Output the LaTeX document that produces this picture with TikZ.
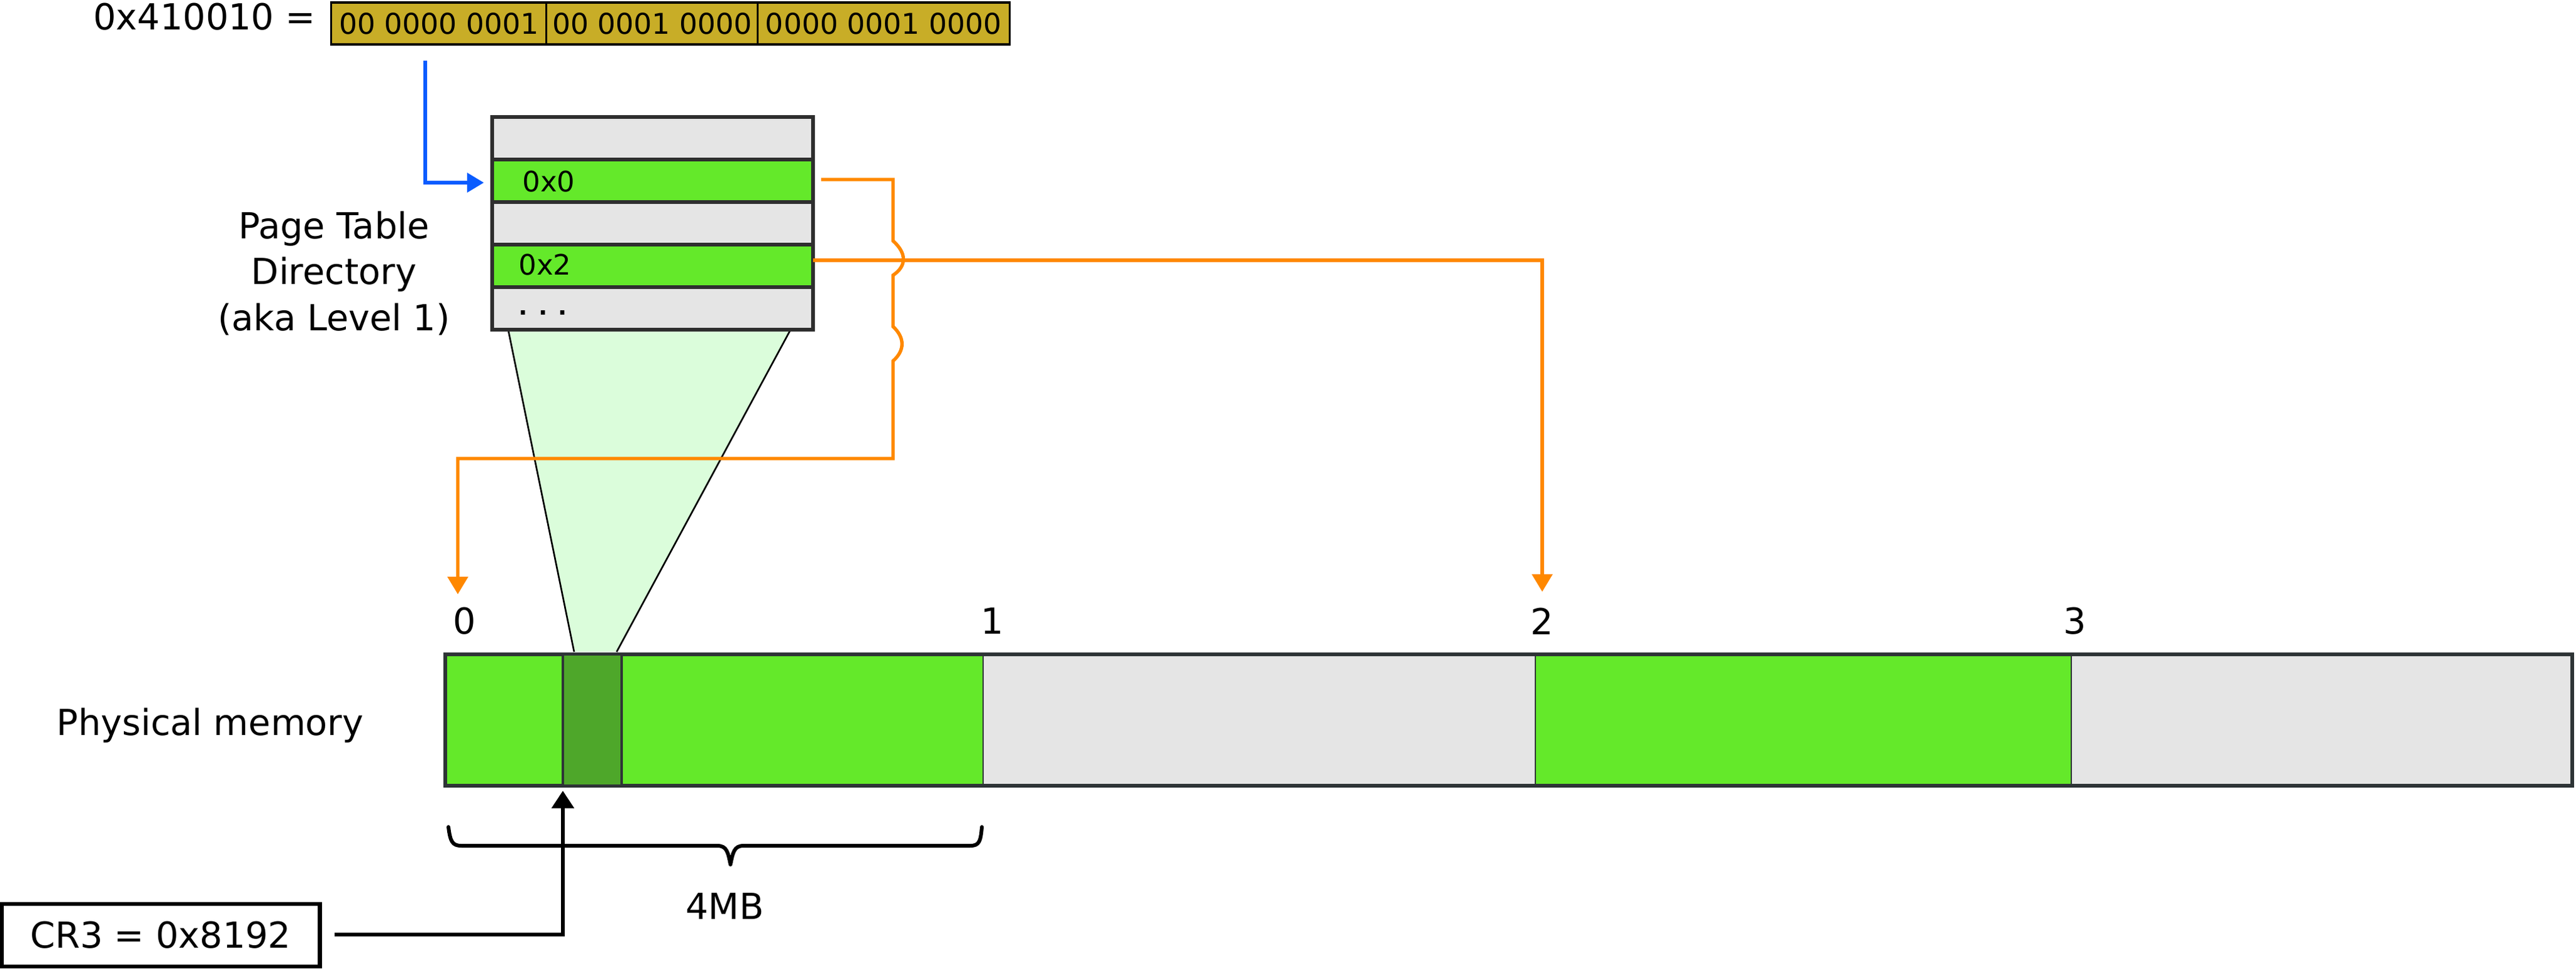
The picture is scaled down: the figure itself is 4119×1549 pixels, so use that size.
\documentclass[tikz,border=0pt]{standalone}
\usepackage{fontspec}
\setmainfont{DejaVu Sans}
\usetikzlibrary{arrows.meta}
\definecolor{pgreen}{HTML}{64E92A}
\definecolor{lgray}{HTML}{E5E5E5}
\definecolor{dgreen}{HTML}{4EA72A}
\definecolor{tfill}{HTML}{DBFDDB}
\definecolor{ybox}{HTML}{C8AD27}
\definecolor{oline}{HTML}{FF8800}
\definecolor{bline}{HTML}{0A5CFF}
\definecolor{tdark}{HTML}{2E2E2E}
\definecolor{mdark}{HTML}{2E3436}
\tikzset{
  bigtext/.style={font=\fontsize{16.3}{21}\selectfont, inner sep=0pt},
  smalltext/.style={font=\fontsize{12.8}{15}\selectfont, inner sep=0pt},
  ycell/.style={draw=black, fill=ybox, line width=0.9pt, minimum height=0.67cm, inner sep=0pt, outer sep=0pt, font=\fontsize{13}{15}\selectfont},
  trow/.style={draw=tdark, line width=1.7pt, minimum width=5.13cm, minimum height=0.68cm, inner sep=0pt, outer sep=0pt},
  mseg/.style={draw=mdark, line width=0.6pt, minimum height=2.10cm, inner sep=0pt, outer sep=0pt},
  oconn/.style={draw=oline, line width=1.55pt, -{Triangle[length=0.28cm,width=0.32cm]}},
  bconn/.style={draw=bline, line width=1.9pt, -{Triangle[length=0.27cm,width=0.30cm]}},
  kconn/.style={draw=black, line width=1.7pt, -{Triangle[length=0.28cm,width=0.35cm]}},
}
\begin{document}
\begin{tikzpicture}[x=0.01cm,y=-0.01cm]
\useasboundingbox (0,0) rectangle (4119,1549);

% address
\node[bigtext] (addr) at (327,27) {0x410010 =};
\node[ycell, minimum width=3.44cm] (yb0) at (702,37.5) {00 0000 0001};
\node[ycell, minimum width=3.38cm] (yb1) at (1043,37.5) {00 0001 0000};
\node[ycell, minimum width=4.02cm] (yb2) at (1413,37.5) {0000 0001 0000};

% trapezoid (behind)
\coordinate (tl) at (813,529);
\coordinate (tr) at (1263,529);
\coordinate (bl) at (918,1042);
\coordinate (br) at (986,1042);
\fill[tfill] (tl) -- (tr) -- (br) -- (bl) -- cycle;
\draw[line width=0.75pt] (tl) -- (bl);
\draw[line width=0.75pt] (tr) -- (br);

% page table directory
\node[trow, fill=lgray] (r0) at (1043.5,221) {};
\node[trow, fill=pgreen] (r1) at (1043.5,289) {};
\node[trow, fill=lgray] (r2) at (1043.5,357) {};
\node[trow, fill=pgreen] (r3) at (1043.5,425) {};
\node[trow, fill=lgray] (r4) at (1043.5,493) {};
\node[smalltext, anchor=west] (t1) at (835,290) {0x0};
\node[smalltext, anchor=west] (t3) at (829,423) {0x2};
\node[inner sep=0pt, font=\fontsize{10.6}{12}\bfseries, anchor=base west] (t4) at (829,503) {. . .};
\node[bigtext, align=center] (ptd) at (534,437) {Page Table\\Directory\\(aka Level 1)};

% physical memory
\node[mseg, fill=pgreen, minimum width=8.59cm] (m0) at (1142.5,1151) {};
\node[mseg, fill=lgray, minimum width=8.83cm] (m1) at (2013.5,1151) {};
\node[mseg, fill=pgreen, minimum width=8.57cm] (m2) at (2883.5,1151) {};
\node[mseg, fill=lgray, minimum width=8.00cm] (m3) at (3712,1151) {};
\node[draw=mdark, line width=1.7pt, minimum width=33.99cm, minimum height=2.10cm, inner sep=0pt, outer sep=0pt] (frame) at (2412.5,1151) {};
\node[draw=mdark, fill=dgreen, line width=0.9pt, minimum width=0.94cm, minimum height=2.10cm, inner sep=0pt, outer sep=0pt] (dark) at (947,1151) {};
\node[bigtext] (pm) at (336,1160) {Physical memory};
\node[bigtext] (l0) at (743,993) {0};
\node[bigtext] (l1) at (1587,993) {1};
\node[bigtext] (l2) at (2466,993) {2};
\node[bigtext] (l3) at (3318,993) {3};

% brace
\draw[line width=1.7pt, line cap=round, line join=round] (717,1322) .. controls (720,1345) and (723,1352) .. (738,1352) -- (1147,1352)
  .. controls (1162,1352) and (1164,1362) .. (1168,1382)
  .. controls (1172,1362) and (1174,1352) .. (1189,1352) -- (1551,1352)
  .. controls (1566,1352) and (1568,1345) .. (1570,1322);
\node[bigtext] (mb) at (1159,1449) {4MB};

% CR3
\node[draw=black, line width=1.8pt, minimum width=5.09cm, minimum height=1.0cm, inner sep=0pt, outer sep=0pt, bigtext] (cr3) at (257,1495) {CR3 = 0x8192};

% connectors
\coordinate (bs) at (680,97);
\draw[bconn] (bs) |- ([xshift=-0.13cm, yshift=-0.03cm]r1.west);

\coordinate (a0) at (732,950);
\coordinate (a2) at (2466,946);
\draw[oconn] ([xshift=0.13cm, yshift=0.02cm]r1.east) -- (1428,287) -- (1428,385)
  .. controls (1450,405) and (1450,425) .. (1428,440) -- (1428,522)
  .. controls (1447,540) and (1447,560) .. (1428,577) -- (1428,733) -| (a0);
\draw[oconn] ([yshift=0.09cm]r3.east) -| (a2);

\draw[kconn] ([xshift=0.23cm, yshift=0.01cm]cr3.east) -| ([yshift=-0.08cm]dark.south west);
\end{tikzpicture}
\end{document}
